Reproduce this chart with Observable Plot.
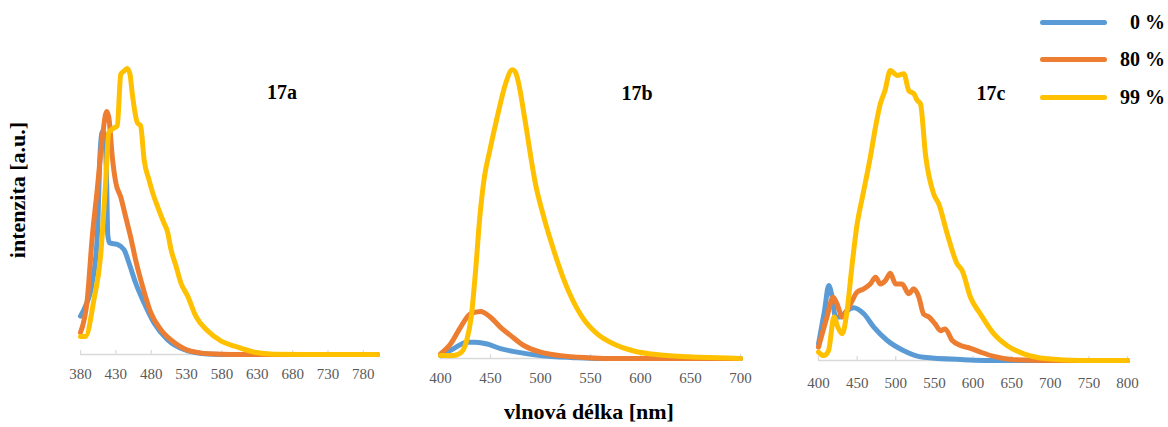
<!DOCTYPE html>
<html><head><meta charset="utf-8">
<script src="https://cdn.jsdelivr.net/npm/d3@7"></script>
<script src="https://cdn.jsdelivr.net/npm/@observablehq/plot@0.6"></script>
<style>
body{margin:0;background:#fff;}
#root{position:relative;width:1168px;height:427px;overflow:hidden;font-family:"Times New Roman","Liberation Serif",serif;}
.panel{position:absolute;top:0;}
.t{position:absolute;font-weight:bold;color:#000;white-space:nowrap;}
</style></head><body><div id="root"></div>
<script>
// ---- data ----
const seriesNames = ["0 %", "80 %", "99 %"];
const seriesColors = ["#5b9bd5", "#ed7d31", "#ffc000"];
const panelTitles = ["17a", "17b", "17c"];
const xTitle = "vlnová délka [nm]";
const yTitle = "intenzita [a.u.]";

const ticksA = [380, 430, 480, 530, 580, 630, 680, 730, 780];
const ticksB = [400, 450, 500, 550, 600, 650, 700];
const ticksC = [400, 450, 500, 550, 600, 650, 700, 750, 800];

// panel 17a  [wavelength nm, intensity a.u.]
const a0 = [[380,13.4],[387,16.9],[396.6,25],[403.7,41],[408,71.7],[411,78],[414,77],[417,60],[418.5,42],[421,39],[432,38.5],[441.5,36.7],[448.6,32],[458,25],[470,18],[484,11],[503,5.2],[527,1.7],[560,0.2],[600,0],[800,0]];
const a1 = [[380,7.7],[389.5,19],[396.6,41],[403.7,57.7],[411,76],[417,85],[420,83],[425,69],[430,60],[437,55],[444,48],[451,41],[458,33],[467.6,24],[479.4,14.6],[493.6,8.7],[512.5,4.2],[536,1.2],[569,0.2],[620,0],[800,0]];
const a2 = [[380,6.3],[387,6.3],[399,19.2],[408.4,34.3],[415.5,60.1],[420,77.6],[426,79],[432,80],[437,98],[441,99],[446,100],[450,98],[453,91.6],[460.5,81],[465,80],[470,68],[477,61],[482,56.6],[489,51.7],[498,46],[503,43],[508,36.7],[515,31],[522,25],[531.6,20.4],[543,13.4],[560,8.2],[579,4.7],[598,2.9],[626,0.8],[654,0.1],[700,0],[800,0]];

// panel 17b
const b0 = [[400,1],[413,3.4],[426.7,5.6],[435,5.6],[446.7,5],[460,3.4],[476.7,2.2],[500,1],[533,0.3],[560,0],[700,0]];
const b1 = [[400,1.6],[410,5],[420,10.8],[430,15.5],[440,16.3],[450,14.3],[460,10.8],[470,8],[483.3,4.5],[500,2.2],[520,1],[546.7,0.3],[580,0],[700,0]];
const b2 = [[400,1],[413,1],[421,2.2],[426,6],[430.7,14.3],[435,30],[439.3,48.9],[444,63],[449.3,72],[456.7,83.5],[465,95],[471.7,99.9],[475,99],[478.3,95],[484,83.5],[495,60.4],[503.3,48.9],[513.3,37.4],[525,25.8],[541.7,14.3],[556.7,8.5],[573.3,5],[593.3,2.6],[620,1.2],[660,0.4],[700,0]];

// panel 17c
const c0 = [[400,5.7],[407.8,17.2],[413.3,25.9],[417.7,21.8],[422,15],[428.5,15],[437,17.2],[445.7,18.2],[458.6,16.1],[471.6,11.5],[489,6.9],[510.4,3.4],[536,1.1],[588,0.3],[640,0],[800,0]];
const c1 = [[400,4.6],[411,15],[419,21.8],[424,19.5],[430.7,15],[437,17.2],[443.6,20.7],[450,23.6],[458.6,24.7],[467,26.4],[474,28.7],[480,26.4],[486.7,27.6],[493,30.1],[499.7,26.4],[508,26.4],[517,23],[523,24.7],[530,21.8],[536,16],[543,15],[551,12.6],[558,10.3],[564,10.9],[573,6.9],[584,5.2],[596.7,4.2],[609.7,2.9],[627,1.4],[652.8,0.3],[700,0],[800,0]];
const c2 = [[400,2.9],[407,1.7],[413,3.4],[420,15],[425,11.5],[430.7,9.2],[437,17.2],[443.6,33.3],[450,47],[456.6,56],[467,70],[473.8,80.5],[480,88.5],[486,93],[493,100],[502,98.3],[510.5,98.9],[517,93],[523.4,92],[527.8,89.7],[532,88.5],[538.5,71],[549,57.5],[555.7,54],[566.6,43.7],[579.5,33.3],[586,31],[596.7,21.8],[609.7,16],[627,9.2],[644,5.2],[665.8,2.3],[696,0.6],[738,0],[800,0]];

// ---- layout ----
const FONT = "'Times New Roman','Liberation Serif',serif";
const panels = [
  {left: 0,   width: 400, ml: 80, mr: 23, mt: 68, mb: 73, domain: [380, 800], ticks: ticksA, pad: 14.3, series: [a0, a1, a2]},
  {left: 400, width: 370, ml: 40, mr: 30, mt: 69, mb: 69, domain: [400, 700], ticks: ticksB, pad: 14.3, series: [b0, b1, b2]},
  {left: 780, width: 388, ml: 38, mr: 41, mt: 70, mb: 67, domain: [400, 800], ticks: ticksC, pad: 16.8, series: [c0, c1, c2]}
];

const root = document.getElementById("root");

panels.forEach((p) => {
  const data = p.series.flatMap((pts, k) => pts.map(([w, v]) => ({w, v, s: seriesNames[k]})));
  const chart = Plot.plot({
    width: p.width, height: 427,
    marginLeft: p.ml, marginRight: p.mr, marginTop: p.mt, marginBottom: p.mb,
    x: {domain: p.domain},
    y: {domain: [0, 100], axis: null},
    color: {domain: seriesNames, range: seriesColors},
    style: {background: "none", overflow: "visible"},
    marks: [
      Plot.ruleY([0], {stroke: "#d9d9d9", strokeWidth: 1.3}),
      Plot.ruleX(p.ticks, {x: (d) => d, y1: 0, y2: 0, insetTop: -4, stroke: "#d9d9d9", strokeWidth: 1.2}),
      Plot.axisX(p.ticks, {tickSize: 0, tickPadding: p.pad, fontSize: 15, fontFamily: FONT, fill: "#595959", label: null}),
      Plot.line(data, {x: "w", y: "v", z: "s", stroke: "s", strokeWidth: 5, curve: "monotone-x", strokeLinejoin: "round", strokeLinecap: "round"})
    ]
  });
  chart.classList.add("panel");
  chart.style.left = p.left + "px";
  root.appendChild(chart);
});

function addText(txt, css) {
  const d = document.createElement("div");
  d.className = "t";
  d.textContent = txt;
  Object.assign(d.style, css);
  root.appendChild(d);
  return d;
}

// panel titles
const titleCenters = [[282, 92], [637, 93], [991, 93]];
panelTitles.forEach((t, i) => {
  addText(t, {left: (titleCenters[i][0] - 40) + "px", top: (titleCenters[i][1] - 10) + "px", width: "80px", textAlign: "center", fontSize: "20px", lineHeight: "20px"});
});

// axis titles
addText(xTitle, {left: "489px", top: "401px", width: "200px", textAlign: "center", fontSize: "22px", lineHeight: "22px"});
addText(yTitle, {left: "18px", top: "190px", fontSize: "22px", lineHeight: "22px", transform: "translate(-50%,-50%) rotate(-90deg)"});

// legend
const legendY = [22, 59, 97];
seriesNames.forEach((name, k) => {
  const ln = document.createElement("div");
  Object.assign(ln.style, {position: "absolute", left: "1040px", top: (legendY[k] - 2.5) + "px", width: "67px", height: "5px", borderRadius: "3px", background: seriesColors[k]});
  root.appendChild(ln);
  addText(name, {right: "3px", top: (legendY[k] - 10) + "px", fontSize: "20px", lineHeight: "20px", textAlign: "right"});
});
</script>
</body></html>
